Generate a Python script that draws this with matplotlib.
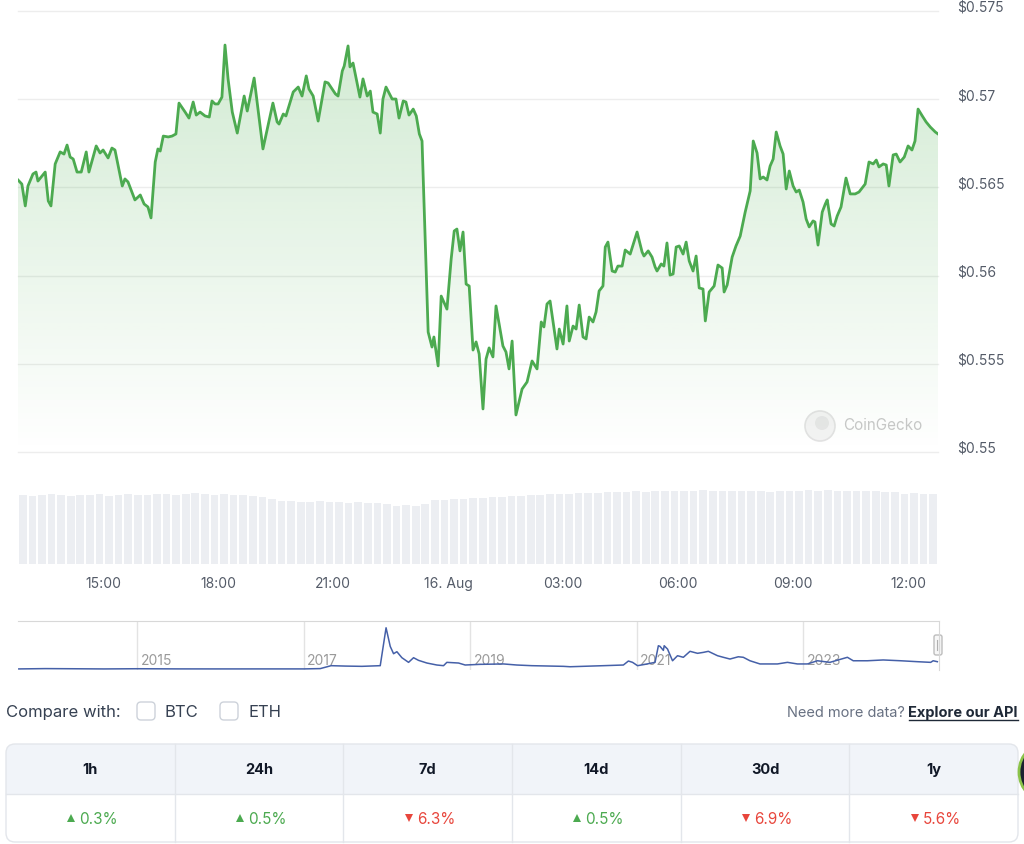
import numpy as np
import matplotlib.pyplot as plt
from matplotlib.patches import Polygon, FancyBboxPatch, Circle, Rectangle

plt.rcParams['font.family'] = ['Inter', 'DejaVu Sans']

W, H = 1024, 845

# 24h price, hours counted from 15 Aug 00:00
hours = [12.78, 12.88, 12.97, 13.04, 13.17, 13.25, 13.30, 13.49, 13.57, 13.64,
         13.75, 13.88, 13.98, 14.06, 14.14, 14.22, 14.32, 14.43, 14.56, 14.63,
         14.82, 14.92, 15.00, 15.13, 15.23, 15.31, 15.50, 15.57, 15.65, 15.83,
         15.97, 16.07, 16.17, 16.25, 16.36, 16.43, 16.49, 16.57, 16.70, 16.80,
         16.90, 16.98, 17.14, 17.24, 17.35, 17.43, 17.53, 17.66, 17.77, 17.84,
         17.92, 18.00, 18.10, 18.18, 18.26, 18.37, 18.50, 18.68, 18.76, 18.94,
         19.17, 19.43, 19.54, 19.59, 19.70, 19.77, 19.96, 20.09, 20.19, 20.30,
         20.37, 20.48, 20.61, 20.79, 20.87, 21.06, 21.13, 21.24, 21.29, 21.39,
         21.44, 21.52, 21.70, 21.78, 21.89, 21.97, 22.04, 22.15, 22.23, 22.30,
         22.38, 22.54, 22.64, 22.72, 22.83, 22.90, 22.98, 23.09, 23.17, 23.25,
         23.32, 23.48, 23.58, 23.63, 23.74, 23.82, 23.97, 24.08, 24.16, 24.23,
         24.31, 24.39, 24.47, 24.55, 24.65, 24.73, 24.81, 24.91, 24.99, 25.07,
         25.17, 25.25, 25.43, 25.51, 25.59, 25.67, 25.77, 25.93, 26.06, 26.19,
         26.32, 26.43, 26.50, 26.58, 26.66, 26.84, 26.90, 27.00, 27.10, 27.16,
         27.26, 27.34, 27.42, 27.52, 27.60, 27.68, 27.78, 27.86, 27.94, 28.04,
         28.10, 28.17, 28.28, 28.36, 28.43, 28.54, 28.62, 28.75, 28.93, 29.06,
         29.11, 29.22, 29.32, 29.40, 29.45, 29.56, 29.63, 29.71, 29.79, 29.87,
         29.95, 30.03, 30.13, 30.21, 30.29, 30.39, 30.47, 30.55, 30.65, 30.71,
         30.81, 30.94, 31.04, 31.15, 31.20, 31.28, 31.41, 31.51, 31.62, 31.75,
         31.88, 31.96, 32.06, 32.14, 32.22, 32.32, 32.40, 32.48, 32.56, 32.66,
         32.74, 32.82, 32.90, 33.00, 33.08, 33.16, 33.26, 33.34, 33.42, 33.52,
         33.57, 33.65, 33.76, 33.84, 33.89, 33.99, 34.07, 34.15, 34.25, 34.38,
         34.49, 34.62, 34.72, 34.88, 34.98, 35.09, 35.17, 35.24, 35.35, 35.43,
         35.50, 35.61, 35.69, 35.79, 35.90, 36.00, 36.10, 36.18, 36.26, 36.37,
         36.47, 36.58, 36.71, 36.78]

prices = [0.56542, 0.56519, 0.56395, 0.56508, 0.56576, 0.56587, 0.56536, 0.56587, 0.56423, 0.56395,
          0.56633, 0.56701, 0.56689, 0.56740, 0.56672, 0.56661, 0.56587, 0.56587, 0.56701, 0.56587,
          0.56735, 0.56695, 0.56712, 0.56667, 0.56723, 0.56712, 0.56508, 0.56548, 0.56531, 0.56429,
          0.56457, 0.56406, 0.56389, 0.56327, 0.56644, 0.56718, 0.56706, 0.56791, 0.56786, 0.56791,
          0.56803, 0.56978, 0.56927, 0.56893, 0.56984, 0.56910, 0.56927, 0.56905, 0.56899, 0.56990,
          0.56973, 0.56973, 0.57012, 0.57307, 0.57115, 0.56927, 0.56808, 0.57018, 0.56933, 0.57120,
          0.56718, 0.56978, 0.56871, 0.56859, 0.56916, 0.56905, 0.57041, 0.57069, 0.57018, 0.57132,
          0.57058, 0.57018, 0.56876, 0.57098, 0.57092, 0.57030, 0.57018, 0.57160, 0.57188, 0.57302,
          0.57183, 0.57205, 0.57012, 0.57115, 0.57018, 0.57046, 0.56927, 0.56916, 0.56808, 0.57001,
          0.57069, 0.57001, 0.57001, 0.56893, 0.56990, 0.56984, 0.56910, 0.56944, 0.56905, 0.56803,
          0.56763, 0.55680, 0.55595, 0.55652, 0.55488, 0.55884, 0.55810, 0.56094, 0.56253, 0.56264,
          0.56140, 0.56247, 0.55952, 0.55941, 0.55578, 0.55624, 0.55556, 0.55244, 0.55527, 0.55590,
          0.55539, 0.55828, 0.55601, 0.55567, 0.55471, 0.55629, 0.55210, 0.55357, 0.55397, 0.55516,
          0.55471, 0.55737, 0.55709, 0.55839, 0.55856, 0.55584, 0.55697, 0.55612, 0.55828, 0.55629,
          0.55714, 0.55697, 0.55833, 0.55652, 0.55641, 0.55765, 0.55737, 0.55794, 0.55913, 0.55941,
          0.56162, 0.56190, 0.56026, 0.56020, 0.56054, 0.56054, 0.56145, 0.56122, 0.56247, 0.56134,
          0.56111, 0.56140, 0.56105, 0.56049, 0.56026, 0.56066, 0.56054, 0.56185, 0.56003, 0.56009,
          0.56162, 0.56168, 0.56122, 0.56190, 0.56083, 0.56026, 0.56111, 0.55930, 0.55924, 0.55743,
          0.55907, 0.55941, 0.56060, 0.56043, 0.55907, 0.55947, 0.56105, 0.56168, 0.56224, 0.56360,
          0.56480, 0.56763, 0.56695, 0.56548, 0.56559, 0.56542, 0.56621, 0.56661, 0.56814, 0.56735,
          0.56689, 0.56491, 0.56593, 0.56508, 0.56474, 0.56485, 0.56417, 0.56321, 0.56276, 0.56310,
          0.56304, 0.56173, 0.56360, 0.56406, 0.56429, 0.56293, 0.56281, 0.56338, 0.56389, 0.56553,
          0.56463, 0.56463, 0.56474, 0.56519, 0.56644, 0.56633, 0.56655, 0.56616, 0.56633, 0.56627,
          0.56508, 0.56684, 0.56689, 0.56644, 0.56672, 0.56735, 0.56712, 0.56763, 0.56944, 0.56905,
          0.56871, 0.56842, 0.56814, 0.56803]

price_ticks = [0.55, 0.555, 0.56, 0.565, 0.57, 0.575]
price_labels = ["$0.55", "$0.555", "$0.56", "$0.565", "$0.57", "$0.575"]

time_ticks = [15, 18, 21, 24, 27, 30, 33, 36]
time_labels = ["15:00", "18:00", "21:00", "16. Aug", "03:00", "06:00", "09:00", "12:00"]

# volume, one bar per 15 minutes (relative units)
vol_start = 12.78
vol_step = 0.25
volume = [69, 68, 69, 70, 69, 68, 69, 69, 70, 68, 69, 70, 69, 69, 70, 70, 69, 70, 71, 70,
          69, 70, 69, 69, 68, 67,
          65, 63, 63, 62, 62, 63, 62, 62, 61, 62, 61, 61, 60,
          58, 59, 58, 60,
          64, 64, 65, 65, 66, 66, 67, 67, 68, 68, 69, 69,
          70, 70, 70, 71, 71, 71, 72, 72,
          72, 73, 72, 73, 73, 73, 73, 73, 74, 73, 73, 73, 73, 73, 73, 72, 73, 73, 73, 74,
          73, 74, 73, 73, 73, 73, 73, 72, 72,
          70, 71, 70, 70]

# all-time navigator
nav_year = [2013.58, 2013.90, 2014.20, 2014.60, 2015.00, 2015.50, 2016.00, 2016.50, 2017.00, 2017.20,
            2017.33, 2017.50, 2017.70, 2017.92, 2017.99, 2018.04, 2018.08, 2018.12, 2018.18, 2018.26,
            2018.32, 2018.38, 2018.48, 2018.60, 2018.68, 2018.72, 2018.86, 2018.94, 2019.12, 2019.40,
            2019.56, 2019.74, 2020.12, 2020.20, 2020.60, 2020.84, 2020.90, 2020.95, 2021.01, 2021.10,
            2021.22, 2021.26, 2021.28, 2021.32, 2021.33, 2021.37, 2021.43, 2021.49, 2021.56, 2021.64,
            2021.73, 2021.80, 2021.86, 2021.97, 2022.04, 2022.12, 2022.22, 2022.28, 2022.36, 2022.48,
            2022.69, 2022.81, 2022.93, 2023.05, 2023.17, 2023.32, 2023.53, 2023.60, 2023.77, 2023.96,
            2024.17, 2024.37, 2024.53, 2024.56, 2024.61]
nav_price = [0.006, 0.03, 0.02, 0.005, 0.02, 0.008, 0.006, 0.007, 0.007, 0.03,
             0.25, 0.22, 0.20, 0.25, 3.10, 1.70, 1.15, 1.30, 0.85, 0.50,
             0.85, 0.65, 0.45, 0.30, 0.25, 0.50, 0.45, 0.30, 0.35, 0.38,
             0.30, 0.25, 0.20, 0.17, 0.25, 0.30, 0.60, 0.50, 0.25, 0.35,
             0.50, 1.75, 1.70, 1.40, 1.75, 1.50, 0.62, 1.00, 0.88, 1.33,
             1.18, 1.25, 1.33, 1.00, 0.88, 0.75, 0.92, 0.88, 0.62, 0.38,
             0.38, 0.50, 0.38, 0.38, 0.62, 0.50, 0.88, 0.62, 0.62, 0.68,
             0.62, 0.55, 0.50, 0.62, 0.55]
nav_years_lab = [2015, 2017, 2019, 2021, 2023]

periods = ["1h", "24h", "7d", "14d", "30d", "1y"]
changes = [0.3, 0.5, -6.3, 0.5, -6.9, -5.6]

GREEN = "#4caa50"
RED = "#e8463c"
GREY_TXT = "#545b68"


def rect(x0, y0, x1, y1):
    return [x0 / W, 1 - y1 / H, (x1 - x0) / W, (y1 - y0) / H]


fig = plt.figure(figsize=(W / 100, H / 100), dpi=100)
fig.patch.set_facecolor("white")

# background axes in pixel coords for page elements
bg = fig.add_axes([0, 0, 1, 1])
bg.set_xlim(0, W)
bg.set_ylim(H, 0)
bg.axis("off")

# ---- price chart ----
ax = fig.add_axes(rect(18, 12, 938, 453))
ax.set_xlim(hours[0], hours[-1])
ax.set_ylim(0.55, 0.575)
for v in price_ticks:
    ax.axhline(v, color="#ededed", lw=1, zorder=0, clip_on=False)
for s in ax.spines.values():
    s.set_visible(False)
ax.set_xticks([])
ax.yaxis.tick_right()
ax.set_yticks(price_ticks, price_labels)
ax.tick_params(axis="y", length=0, pad=14, labelsize=10, labelcolor=GREY_TXT)
for lab in ax.get_yticklabels():
    lab.set_va("baseline")
ax.patch.set_alpha(0)

verts = [(hours[0], 0.55)] + list(zip(hours, prices)) + [(hours[-1], 0.55)]
clip = Polygon(verts, closed=True, facecolor="none", edgecolor="none")
ax.add_patch(clip)
grad = np.zeros((256, 1, 4))
grad[:, 0, 0] = 76 / 255
grad[:, 0, 1] = 175 / 255
grad[:, 0, 2] = 80 / 255
grad[:, 0, 3] = np.linspace(0.0, 0.27, 256)
im = ax.imshow(grad, extent=[hours[0], hours[-1], 0.55, 0.575], origin="lower",
               aspect="auto", zorder=1)
im.set_clip_path(clip)
ax.plot(hours, prices, color=GREEN, lw=2, zorder=3, solid_joinstyle="round")

# watermark
bg.add_patch(Circle((820, 427), 15, facecolor="#f3f3f3", edgecolor="#e2e2e2", lw=1.2))
bg.add_patch(Circle((822, 424), 7, facecolor="#e6e6e6", edgecolor="none"))
bg.text(843, 426, "CoinGecko", fontsize=11, color="#c8c8c8", va="center", ha="left")

# ---- volume ----
axv = fig.add_axes(rect(18, 470, 938, 565))
vol_x = vol_start + vol_step * (np.arange(len(volume)) + 0.5)
axv.bar(vol_x, volume, width=vol_step * 0.8, color="#eceef2", edgecolor="none")
axv.set_xlim(hours[0], hours[-1])
axv.set_ylim(0, 95)
for s in axv.spines.values():
    s.set_visible(False)
axv.set_yticks([])
axv.set_xticks(time_ticks, time_labels)
axv.tick_params(axis="x", length=0, pad=9, labelsize=10, labelcolor=GREY_TXT)
axv.patch.set_alpha(0)

# ---- navigator ----
axn = fig.add_axes(rect(18, 622, 939, 671))
axn.set_xlim(2013.57, 2024.63)
axn.set_ylim(-0.075, 3.61)
for yr in nav_years_lab:
    axn.axvline(yr, color="#e3e3e3", lw=1, zorder=0)
    axn.text(yr + 0.04, 0.65, str(yr), fontsize=10, color="#9a9a9a", va="center", ha="left")
axn.plot(nav_year, nav_price, color="#4560a8", lw=1.1, zorder=3)
for k, s in axn.spines.items():
    s.set_visible(k in ("top", "right"))
    s.set_color("#d8d8d8")
axn.set_xticks([])
axn.set_yticks([])
axn.patch.set_alpha(0)
bg.add_patch(FancyBboxPatch((934, 636), 8, 20, boxstyle="round,pad=0,rounding_size=2",
                            facecolor="#f7f7f7", edgecolor="#bdbdbd", lw=1, zorder=5))
bg.plot([937, 937], [641, 651], color="#b0b0b0", lw=0.8, zorder=6)
bg.plot([939, 939], [641, 651], color="#b0b0b0", lw=0.8, zorder=6)

# ---- compare row ----
bg.text(6, 713, "Compare with:", fontsize=12, color="#364152", va="center", ha="left")
for cx, name in [(137, "BTC"), (220, "ETH")]:
    bg.add_patch(FancyBboxPatch((cx, 703), 18, 18, boxstyle="round,pad=0,rounding_size=4",
                                facecolor="white", edgecolor="#cdd2da", lw=1))
    bg.text(cx + 28, 713, name, fontsize=12, color="#364152", va="center", ha="left")
bg.text(905, 713, "Need more data?", fontsize=10.5, color="#687182", va="center", ha="right")
bg.text(1018, 713, "Explore our API", fontsize=10.5, color="#1f2937", va="center",
        ha="right", fontweight="bold")
bg.plot([909, 1018], [721, 721], color="#1f2937", lw=1)

# ---- change table ----
x0, x1, y0, ymid, y1 = 6, 1018, 745, 795, 843
bg.add_patch(FancyBboxPatch((x0, y0), x1 - x0, y1 - y0, boxstyle="round,pad=0,rounding_size=9",
                            facecolor="#f1f4f9", edgecolor="none"))
bg.add_patch(FancyBboxPatch((x0, ymid), x1 - x0, y1 - ymid, boxstyle="round,pad=0,rounding_size=9",
                            facecolor="white", edgecolor="none"))
bg.add_patch(Rectangle((x0, ymid), x1 - x0, 12, facecolor="white", edgecolor="none"))
bg.add_patch(FancyBboxPatch((x0, y0), x1 - x0, y1 - y0, boxstyle="round,pad=0,rounding_size=9",
                            facecolor="none", edgecolor="#e3e6eb", lw=1))
bg.plot([x0, x1], [ymid, ymid], color="#e3e6eb", lw=1)
col_w = (x1 - x0) / len(periods)
for i, (per, ch) in enumerate(zip(periods, changes)):
    cx = x0 + col_w * (i + 0.5)
    if i > 0:
        bg.plot([x0 + col_w * i] * 2, [y0, y1], color="#e3e6eb", lw=1)
    bg.text(cx, 770, per, fontsize=10.5, fontweight="bold", color="#111827",
            ha="center", va="center")
    col = GREEN if ch >= 0 else RED
    bg.plot(cx - 19, 819, marker="^" if ch >= 0 else "v", color=col, markersize=5.5,
            markeredgewidth=0)
    bg.text(cx - 11, 820, f"{abs(ch):.1f}%", fontsize=11, color=col, ha="left", va="center")

# partial floating button at right edge
bg.add_patch(Circle((1050, 773), 31, facecolor="#1b2230", edgecolor="#8bc34a", lw=2))

fig.savefig("out.png", dpi=100)
